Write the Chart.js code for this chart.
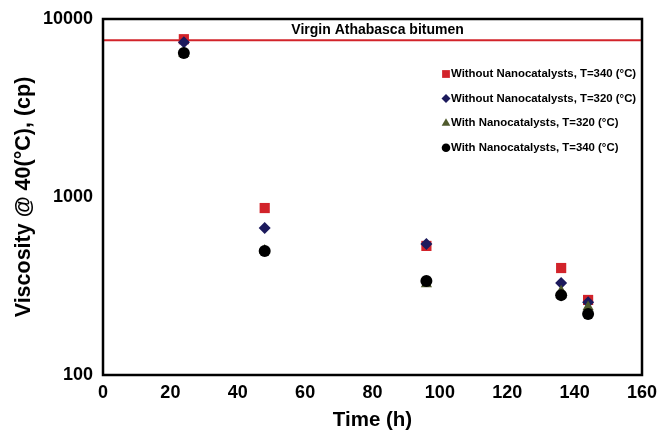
<!DOCTYPE html>
<html>
<head>
<meta charset="utf-8">
<script src="https://cdn.jsdelivr.net/npm/chart.js@4/dist/chart.umd.min.js"></script>
<style>
html,body{margin:0;padding:0;background:#fff;}
#wrap{width:661px;height:433px;position:relative;}
</style>
</head>
<body>
<div id="wrap"><canvas id="c" width="661" height="433"></canvas></div>
<script>
// Data
const times = [24, 48, 96, 136, 144];
const withoutCat340 = [7700, 867, 531, 399, 264];
const withoutCat320 = [7400, 670, 545, 329, 256];
const withCat320 = [6400, 500, 325, 295, 241];
const withCat340 = [6440, 498, 337, 281, 220];
const virginBitumen = 7600;
const xRange = [0, 160];
const yTicks = [100, 1000, 10000];
const seriesLabels = [
  'Without Nanocatalysts, T=340 (°C)',
  'Without Nanocatalysts, T=320 (°C)',
  'With Nanocatalysts, T=320 (°C)',
  'With Nanocatalysts, T=340 (°C)'
];
const virginLabel = 'Virgin Athabasca bitumen';

const FONT = "'Liberation Sans', Arial, Helvetica, sans-serif";
const pts = arr => times.map((t, i) => ({x: t, y: arr[i]}));

const datasets = [
  {label: seriesLabels[3], data: pts(withCat340), pointStyle: 'circle', pointRadius: 6,
   backgroundColor: '#000000', borderColor: '#000000', order: 1},
  {label: seriesLabels[2], data: pts(withCat320), pointStyle: 'triangle', pointRadius: 6.5,
   backgroundColor: '#4f5a2c', borderColor: '#4f5a2c', order: 2},
  {label: seriesLabels[1], data: pts(withoutCat320), pointStyle: 'rectRot', pointRadius: 6,
   backgroundColor: '#1c1a5c', borderColor: '#1c1a5c', order: 3},
  {label: seriesLabels[0], data: pts(withoutCat340), pointStyle: 'rect', pointRadius: 7.2,
   backgroundColor: '#d2232a', borderColor: '#d2232a', order: 4},
  {type: 'line', label: virginLabel, data: [{x: xRange[0], y: virginBitumen}, {x: xRange[1], y: virginBitumen}],
   borderColor: '#d2232a', borderWidth: 2, pointRadius: 0, fill: false, order: 5}
];
datasets.forEach(d => { if (!d.type) { d.borderWidth = 0; d.showLine = false; } });

const legendItems = [
  {label: seriesLabels[0], style: 'rect', r: 5.5, color: '#d2232a'},
  {label: seriesLabels[1], style: 'rectRot', r: 4.5, color: '#1c1a5c'},
  {label: seriesLabels[2], style: 'triangle', r: 5, color: '#4f5a2c'},
  {label: seriesLabels[3], style: 'circle', r: 4.3, color: '#000000'}
];

const overlay = {
  id: 'overlay',
  afterDraw(chart) {
    const ctx = chart.ctx, ca = chart.chartArea;
    const xs = chart.scales.x, ys = chart.scales.y;
    ctx.save();
    // frame
    ctx.strokeStyle = '#000';
    ctx.lineWidth = 2.5;
    ctx.strokeRect(ca.left, ca.top, ca.right - ca.left, ca.bottom - ca.top);
    // virgin label
    ctx.fillStyle = '#000';
    ctx.font = 'bold 14px ' + FONT;
    ctx.textAlign = 'center';
    ctx.textBaseline = 'alphabetic';
    ctx.fillText(virginLabel, xs.getPixelForValue(81.5), ys.getPixelForValue(virginBitumen) - 6);
    // legend
    ctx.font = 'bold 11.4px ' + FONT;
    ctx.textAlign = 'left';
    ctx.textBaseline = 'middle';
    const lx = 446, ly0 = 74, dy = 24.6;
    legendItems.forEach((it, i) => {
      const y = ly0 + i * dy;
      ctx.fillStyle = it.color;
      ctx.strokeStyle = it.color;
      ctx.lineWidth = 0;
      Chart.helpers.drawPoint(ctx, {pointStyle: it.style, radius: it.r, borderWidth: 0}, lx, y);
      ctx.fillStyle = '#000';
      ctx.fillText(it.label, lx + 5, y);
    });
    ctx.restore();
  }
};

new Chart(document.getElementById('c'), {
  type: 'scatter',
  data: {datasets},
  options: {
    responsive: false,
    animation: false,
    devicePixelRatio: 1,
    layout: {padding: {left: 11, right: 19, top: 19, bottom: 0}},
    plugins: {legend: {display: false}, tooltip: {enabled: false}},
    scales: {
      x: {
        type: 'linear', min: xRange[0], max: xRange[1],
        grid: {display: false, drawTicks: true, tickLength: 5, tickColor: '#000', tickWidth: 1.5},
        border: {display: false},
        ticks: {stepSize: 20, color: '#000', font: {family: FONT, size: 18, weight: 'bold'}, padding: 2, maxRotation: 0},
        title: {display: true, text: 'Time (h)', color: '#000', font: {family: FONT, size: 20.5, weight: 'bold'}, padding: {top: 4, bottom: 0}},
        afterFit(s) { s.height = 58; }
      },
      y: {
        type: 'logarithmic', min: yTicks[0], max: yTicks[yTicks.length - 1],
        grid: {display: false, drawTicks: true, tickLength: 5, tickColor: '#000', tickWidth: 1.5},
        border: {display: false},
        afterBuildTicks(s) { s.ticks = yTicks.map(v => ({value: v})); },
        ticks: {color: '#000', font: {family: FONT, size: 18, weight: 'bold'}, padding: 5,
                callback: v => String(v)},
        title: {display: true, text: 'Viscosity @ 40(°C), (cp)', color: '#000', font: {family: FONT, size: 21.5, weight: 'bold'}, padding: {top: 0, bottom: 4}},
        afterFit(s) { s.width = 92; }
      }
    }
  },
  plugins: [overlay]
});
</script>
</body>
</html>
